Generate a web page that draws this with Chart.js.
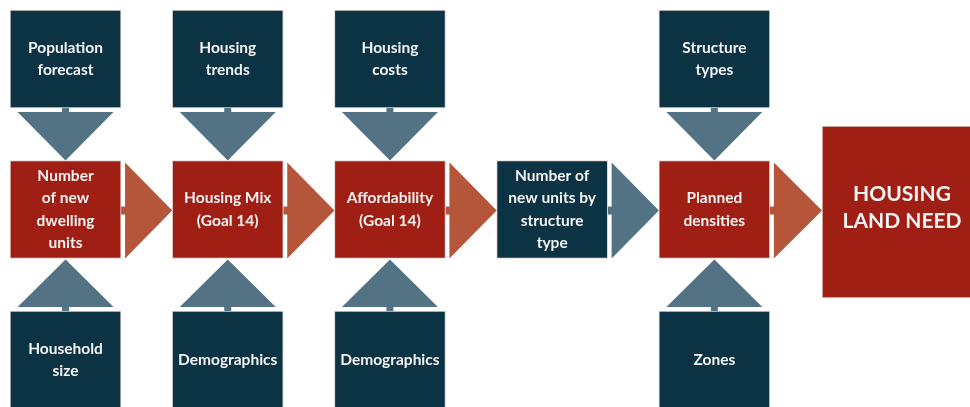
<!DOCTYPE html>
<html>
<head>
<meta charset="utf-8">
<script src="https://cdn.jsdelivr.net/npm/chart.js@4.4.1/dist/chart.umd.min.js"></script>
<style>
  html, body { margin: 0; padding: 0; background: #fff; }
  #wrap { width: 970px; height: 407px; position: relative; }
</style>
</head>
<body>
<div id="wrap"><canvas id="chart"></canvas></div>
<script>
// Diagram content: one entry per column (null = no box)
const topInputs    = ["Population\nforecast", "Housing\ntrends", "Housing\ncosts", null, "Structure\ntypes"];
const steps        = ["Number\nof new\ndwelling\nunits", "Housing Mix\n(Goal 14)", "Affordability\n(Goal 14)", "Number of\nnew units by\nstructure\ntype", "Planned\ndensities"];
const stepKinds    = ["policy", "policy", "policy", "output", "policy"];
const bottomInputs = ["Household\nsize", "Demographics", "Demographics", null, "Zones"];
const outcome      = ["HOUSING\nLAND NEED"];

// Layout in grid units (column / row) — kept apart from the content
const LAYOUT = {
  xMin: -0.404, xMax: 5.576,
  yMin: -0.392, yMax: 2.312,
  boxHalf: 0.3256,
  outcomeX: 5.157, outcomeY: 1.017, outcomeHalf: 0.571
};

const COLORS = {
  red: "#a01f15",
  teal: "#0c3343",
  slate: "#537384",
  orange: "#b5553a",
  edge: "#e2d4d1",
  text: "#f3f3f3"
};

const rowBar = (row, col) => ({ x: col, y: [row - LAYOUT.boxHalf, row + LAYOUT.boxHalf], col });

const topData = topInputs.map((t, i) => t ? rowBar(0, i) : null).filter(Boolean);
const midData = steps.map((t, i) => rowBar(1, i));
const botData = bottomInputs.map((t, i) => t ? rowBar(2, i) : null).filter(Boolean);
const outData = outcome.map(() => ({
  x: LAYOUT.outcomeX,
  y: [LAYOUT.outcomeY - LAYOUT.outcomeHalf, LAYOUT.outcomeY + LAYOUT.outcomeHalf],
  col: 5
}));

const base = { grouped: false, borderWidth: 1, borderColor: COLORS.edge, borderSkipped: false, barThickness: 111 };

const datasets = [
  { ...base, label: "top", data: topData, backgroundColor: COLORS.teal, texts: topInputs },
  { ...base, label: "mid", data: midData, backgroundColor: midData.map(d => stepKinds[d.col] === "policy" ? COLORS.red : COLORS.teal), texts: steps },
  { ...base, label: "bottom", data: botData, backgroundColor: COLORS.teal, texts: bottomInputs },
  { ...base, label: "out", data: outData, backgroundColor: COLORS.red, barThickness: 160, texts: outcome, big: true, clip: false }
];

function box(el) {
  const p = el.getProps(["x", "y", "base", "width"], true);
  return {
    left: p.x - p.width / 2, right: p.x + p.width / 2,
    top: Math.min(p.y, p.base), bottom: Math.max(p.y, p.base),
    cx: p.x, cy: (p.y + p.base) / 2
  };
}

// Connectors: stems + triangles between the boxes
const arrowsPlugin = {
  id: "arrows",
  beforeDatasetsDraw(chart) {
    const ctx = chart.ctx;
    const metas = [0, 1, 2, 3].map(i => chart.getDatasetMeta(i));
    const find = (m, col) => {
      const ds = chart.data.datasets[m];
      const j = ds.data.findIndex(d => d.col === col);
      return j < 0 ? null : box(metas[m].data[j]);
    };
    const half = 48, gap = 4, stem = 3.5;
    ctx.save();
    for (let i = 0; i < steps.length; i++) {
      const mid = find(1, i);
      const top = find(0, i);
      const bot = find(2, i);
      if (top) {
        ctx.fillStyle = COLORS.slate;
        ctx.fillRect(top.cx - stem, top.bottom, stem * 2, gap + 1);
        ctx.beginPath();
        ctx.moveTo(top.cx - half, top.bottom + gap);
        ctx.lineTo(top.cx + half, top.bottom + gap);
        ctx.lineTo(mid.cx, mid.top);
        ctx.closePath(); ctx.fill();
      }
      if (bot) {
        ctx.fillStyle = COLORS.slate;
        ctx.fillRect(bot.cx - stem, bot.top - gap - 1, stem * 2, gap + 1);
        ctx.beginPath();
        ctx.moveTo(bot.cx - half, bot.top - gap);
        ctx.lineTo(bot.cx + half, bot.top - gap);
        ctx.lineTo(mid.cx, mid.bottom + 1);
        ctx.closePath(); ctx.fill();
      }
      const next = i + 1 < steps.length ? find(1, i + 1) : find(3, 5);
      ctx.fillStyle = stepKinds[i] === "policy" ? COLORS.orange : COLORS.slate;
      const cy = mid.cy + 1;
      ctx.fillRect(mid.right, cy - stem - 0.5, gap + 1, stem * 2 + 1);
      ctx.beginPath();
      ctx.moveTo(mid.right + gap, cy - half);
      ctx.lineTo(mid.right + gap, cy + half);
      ctx.lineTo(next.left, cy);
      ctx.closePath(); ctx.fill();
    }
    ctx.restore();
  }
};

// Box labels
const labelsPlugin = {
  id: "labels",
  afterDatasetsDraw(chart) {
    const ctx = chart.ctx;
    ctx.save();
    ctx.fillStyle = COLORS.text;
    ctx.textAlign = "center";
    ctx.textBaseline = "middle";
    chart.data.datasets.forEach((ds, m) => {
      const meta = chart.getDatasetMeta(m);
      const size = ds.big ? 21 : 15.5;
      const lh = ds.big ? 27 : 22.5;
      ctx.font = `bold ${size}px Lato, "Open Sans", sans-serif`;
      ds.data.forEach((d, j) => {
        const b = box(meta.data[j]);
        const lines = ds.texts[d.col % ds.texts.length].split("\n");
        const cy = Math.min(b.cy, 360) - (ds.big ? 4 : 0);
        lines.forEach((ln, k) => {
          ctx.fillText(ln, b.cx, cy + (k - (lines.length - 1) / 2) * lh);
        });
      });
    });
    ctx.restore();
  }
};

new Chart(document.getElementById("chart"), {
  type: "bar",
  data: { datasets },
  options: {
    responsive: true,
    maintainAspectRatio: false,
    animation: false,
    layout: { padding: 0 },
    plugins: { legend: { display: false }, tooltip: { enabled: false } },
    scales: {
      x: { type: "linear", min: LAYOUT.xMin, max: LAYOUT.xMax, offset: false, display: false },
      y: { type: "linear", min: LAYOUT.yMin, max: LAYOUT.yMax, reverse: true, display: false }
    }
  },
  plugins: [arrowsPlugin, labelsPlugin]
});
</script>
</body>
</html>
